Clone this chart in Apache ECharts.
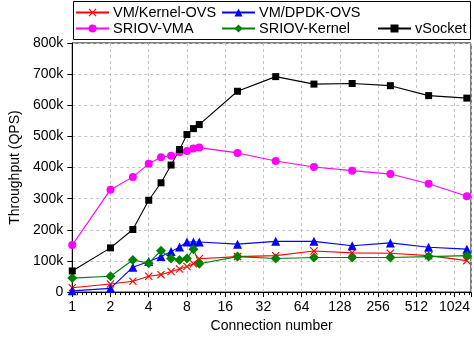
<!DOCTYPE html>
<html>
<head>
<meta charset="utf-8">
<script src="https://cdn.jsdelivr.net/npm/echarts@6/dist/echarts.min.js"></script>
<style>html,body{margin:0;padding:0;background:#fff}#c{width:474px;height:338px}</style>
</head>
<body>
<div id="c"></div>
<script>
// Connection numbers (x, log2 axis)
const connections = [1, 2, 3, 4, 5, 6, 7, 8, 9, 10, 20, 40, 80, 160, 320, 640, 1280];
const xTickLabels = ['1','2','4','8','16','32','64','128','256','512','1024'];
const yTickLabels = ['0','100k','200k','300k','400k','500k','600k','700k','800k'];

// Throughput (QPS)
const vmKernelOvs = [14000, 26000, 35000, 51000, 56000, 66000, 74000, 82000, 91000, 107000, 114000, 117000, 132000, 126000, 125000, 117000, 101000];
const vmDpdkOvs   = [4000, 12000, 80000, 98000, 114000, 130000, 145000, 161000, 161000, 161000, 154000, 163000, 163000, 149000, 158000, 144000, 138000];
const sriovVma    = [151000, 329000, 370000, 412000, 433000, 438000, 449000, 453000, 461000, 464000, 447000, 421000, 402000, 390000, 379000, 348000, 308000];
const sriovKernel = [45000, 51000, 103000, 93000, 133000, 108000, 103000, 108000, 138000, 91000, 114000, 108000, 111000, 111000, 111000, 114000, 117000];
const vSocket     = [68000, 142000, 201000, 295000, 351000, 408000, 458000, 506000, 525000, 538000, 645000, 692000, 668000, 670000, 663000, 631000, 623000];

const seriesNames = ['VM/Kernel-OVS', 'VM/DPDK-OVS', 'SRIOV-VMA', 'SRIOV-Kernel', 'vSocket'];

const FONT = 'Liberation Sans, Arial, Helvetica, sans-serif';
const crossPath = 'path://M1,0 L5,4 L9,0 L10,1 L6,5 L10,9 L9,10 L5,6 L1,10 L0,9 L4,5 L0,1 Z';

function pts(vals) { return connections.map((c, i) => [Math.log2(c), vals[i]]); }

function mkSeries(name, vals, color, symbol, size) {
  return {
    name, type: 'line', data: pts(vals), symbol, symbolSize: size,
    lineStyle: { color, width: 1.1 },
    itemStyle: { color, borderWidth: 0 },
    emphasis: { disabled: true },
    animation: false
  };
}

const chart = echarts.init(document.getElementById('c'), null, { renderer: 'canvas' });

function legendAt(name, left, cy) {
  return {
    data: [name], left, top: cy - 8, padding: 0, itemWidth: 33, itemHeight: 10,
    itemGap: 0, selectedMode: false,
    textStyle: { fontSize: 14.5, fontFamily: FONT, color: '#000', padding: [0, 0, 0, -1] }
  };
}

chart.setOption({
  animation: false,
  backgroundColor: '#fff',
  grid: { left: 63, right: 1, top: 43, bottom: 42, show: true, borderColor: '#000', borderWidth: 1, backgroundColor: 'transparent' },
  graphic: [{ type: 'rect', shape: { x: 73.5, y: 1.5, width: 397, height: 38 }, style: { fill: 'none', stroke: '#000', lineWidth: 1 }, z: 100 }],
  legend: [
    legendAt(seriesNames[0], 75, 13),
    legendAt(seriesNames[1], 221, 13),
    legendAt(seriesNames[2], 75, 29),
    legendAt(seriesNames[3], 221, 29),
    legendAt(seriesNames[4], 377, 29)
  ],
  xAxis: {
    type: 'value', min: 0, max: Math.log2(1380), interval: 1,
    name: 'Connection number', nameLocation: 'middle', nameGap: 23,
    nameTextStyle: { fontSize: 14, fontFamily: FONT, color: '#000' },
    axisLine: { lineStyle: { color: '#000', width: 1 } },
    axisTick: { show: true, length: 5, inside: false, lineStyle: { color: '#000' } },
    minorTick: { show: true, splitNumber: 8, length: 3, lineStyle: { color: '#000' } },
    axisLabel: {
      fontSize: 14, fontFamily: FONT, color: '#000', margin: 8,
      formatter: v => { const k = Math.round(v); return Math.abs(v - k) < 1e-6 ? xTickLabels[k] : ''; }
    },
    splitLine: { show: true, lineStyle: { color: '#c4c4c4', type: [3, 3], width: 1 } }
  },
  yAxis: {
    type: 'value', min: 0, max: 800000, interval: 100000,
    name: 'Throughput (QPS)', nameLocation: 'middle', nameGap: 42,
    nameTextStyle: { fontSize: 14, fontFamily: FONT, color: '#000' },
    axisLine: { show: true, lineStyle: { color: '#000', width: 1 } },
    axisTick: { show: true, length: 5, inside: false, lineStyle: { color: '#000' } },
    axisLabel: {
      fontSize: 14, fontFamily: FONT, color: '#000', margin: 9,
      formatter: v => yTickLabels[Math.round(v / 100000)]
    },
    splitLine: { show: true, lineStyle: { color: '#c4c4c4', type: [3, 3], width: 1 } }
  },
  series: [
    mkSeries(seriesNames[0], vmKernelOvs, '#ff0000', crossPath, 8),
    mkSeries(seriesNames[1], vmDpdkOvs, '#0000ff', 'triangle', 9),
    mkSeries(seriesNames[2], sriovVma, '#ff00ff', 'circle', 8),
    mkSeries(seriesNames[3], sriovKernel, '#008000', 'diamond', 10),
    mkSeries(seriesNames[4], vSocket, '#000000', 'rect', 7)
  ]
});
</script>
</body>
</html>
